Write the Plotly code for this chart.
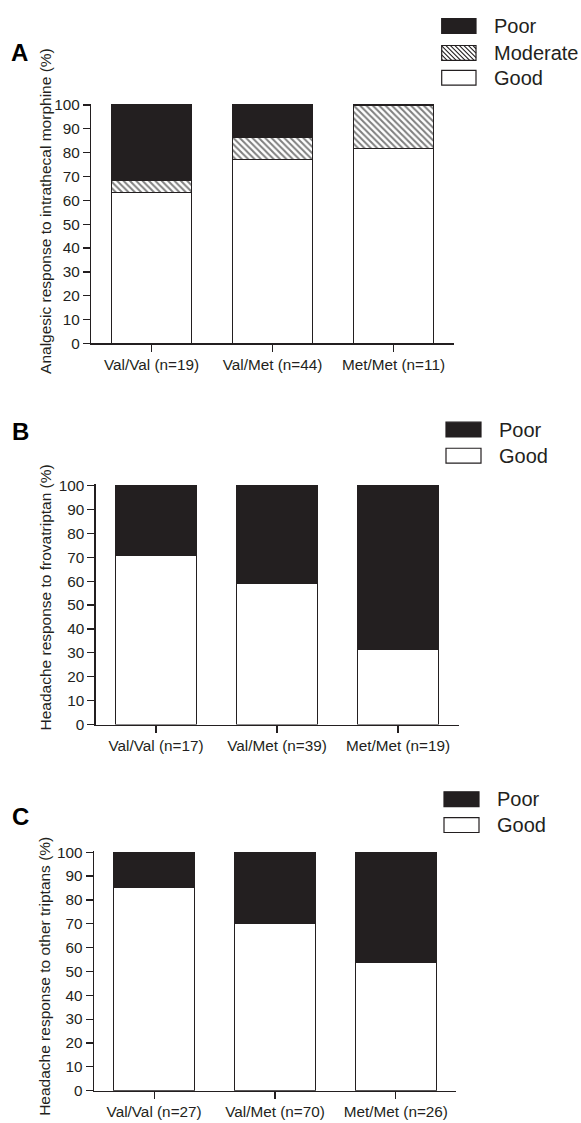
import plotly.graph_objects as go

W, H = 581, 1123

# ---------------- data ----------------
cats_a = ["Val/Val (n=19)", "Val/Met (n=44)", "Met/Met (n=11)"]
good_a = [63.2, 77.3, 81.8]
moderate_a = [5.3, 9.1, 18.2]
poor_a = [31.6, 13.6, 0.0]

cats_b = ["Val/Val (n=17)", "Val/Met (n=39)", "Met/Met (n=19)"]
good_b = [70.6, 59.0, 31.6]
poor_b = [29.4, 41.0, 68.4]

cats_c = ["Val/Val (n=27)", "Val/Met (n=70)", "Met/Met (n=26)"]
good_c = [85.2, 70.0, 53.8]
poor_c = [14.8, 30.0, 46.2]

ytick_vals = list(range(0, 101, 10))
ytitles = [
    "Analgesic response to intrathecal morphine (%)",
    "Headache response to frovatriptan (%)",
    "Headache response to other triptans (%)",
]
panel_letters = ["A", "B", "C"]
series_names = {"poor": "Poor", "moderate": "Moderate", "good": "Good"}

# ---------------- style ----------------
INK = "#231f20"
FONT = "Liberation Sans, Arial, sans-serif"
BAR_W = 0.667


def px_x(x):
    return x / W


def px_y(y):
    return 1 - y / H


fig = go.Figure()

# panel geometry in pixels: (x_left, x_right, y_top(100), y_bottom(0))
panels = [
    (91.0, 454.0, 99.3, 341.0),
    (95.6, 458.5, 485.0, 727.3),
    (93.7, 456.3, 856.7, 1098.3),
]

layout_axes = {}
for i, (xl, xr, yt, yb) in enumerate(panels):
    n = "" if i == 0 else str(i + 1)
    scale = (yb - yt) / 100.0
    ytop = yt - 0.5 * scale  # room for top stroke (range to 100.5)
    layout_axes[f"xaxis{n}"] = dict(
        domain=[px_x(xl), px_x(xr)], anchor=f"y{n}", type="category",
        range=[-0.5, 2.5], showline=True, linecolor=INK, linewidth=1.2,
        ticks="outside", ticklen=7, tickwidth=1.2, tickcolor=INK,
        showgrid=False, zeroline=False, fixedrange=True,
        tickfont=dict(family=FONT, size=15.3, color=INK),
    )
    layout_axes[f"yaxis{n}"] = dict(
        domain=[px_y(yb), px_y(ytop)], anchor=f"x{n}",
        range=[0, 100.5], tickmode="array", tickvals=ytick_vals,
        showline=True, linecolor=INK, linewidth=1.2,
        ticks="outside", ticklen=7, tickwidth=1.2, tickcolor=INK,
        showgrid=False, zeroline=False, fixedrange=True,
        tickfont=dict(family=FONT, size=15.3, color=INK),
    )

line = dict(color=INK, width=1.2)
hatch = dict(shape="\\", size=4.5, solidity=0.45, fgcolor="black", bgcolor="white")

# Panel A
fig.add_trace(go.Bar(x=cats_a, y=good_a, name=series_names["good"], width=BAR_W,
                     marker=dict(color="white", line=line), xaxis="x", yaxis="y"))
fig.add_trace(go.Bar(x=cats_a, y=moderate_a, name=series_names["moderate"], width=BAR_W,
                     marker=dict(color="white", line=line, pattern=hatch),
                     xaxis="x", yaxis="y"))
fig.add_trace(go.Bar(x=cats_a, y=poor_a, name=series_names["poor"], width=BAR_W,
                     marker=dict(color=INK, line=line), xaxis="x", yaxis="y"))
# Panel B
fig.add_trace(go.Bar(x=cats_b, y=good_b, name=series_names["good"], width=BAR_W,
                     marker=dict(color="white", line=line), xaxis="x2", yaxis="y2"))
fig.add_trace(go.Bar(x=cats_b, y=poor_b, name=series_names["poor"], width=BAR_W,
                     marker=dict(color=INK, line=line), xaxis="x2", yaxis="y2"))
# Panel C
fig.add_trace(go.Bar(x=cats_c, y=good_c, name=series_names["good"], width=BAR_W,
                     marker=dict(color="white", line=line), xaxis="x3", yaxis="y3"))
fig.add_trace(go.Bar(x=cats_c, y=poor_c, name=series_names["poor"], width=BAR_W,
                     marker=dict(color=INK, line=line), xaxis="x3", yaxis="y3"))

shapes = []
annotations = []

# ---------------- legends (swatches + labels) ----------------
legend_specs = [
    (441.7, 476.0, 491.7, [("poor", 19.2), ("moderate", 46.5), ("good", 71.7)], 20),
    (446.0, 481.0, 496.7, [("poor", 428.3), ("good", 454.7)], 20),
    (444.0, 479.0, 495.0, [("poor", 803.0), ("good", 829.2)], 20),
]
SW_H = 15.0
for bx0, bx1, tx, rows, fs in legend_specs:
    for key, cy in rows:
        y0, y1 = cy - SW_H / 2, cy + SW_H / 2
        fill = INK if key == "poor" else "white"
        shapes.append(dict(type="rect", xref="paper", yref="paper",
                           x0=px_x(bx0), x1=px_x(bx1), y0=px_y(y1), y1=px_y(y0),
                           fillcolor=fill, line=dict(color=INK, width=1.2), layer="above"))
        if key == "moderate":
            segs = []
            step = 4.5
            c = bx0 - y1 + 1.0  # line: x = y + c (pixel space, top-left -> bottom-right)
            while c < bx1 - y0:
                ys = max(y0, bx0 - c)
                ye = min(y1, bx1 - c)
                if ye > ys:
                    segs.append(f"M{px_x(ys + c):.5f},{px_y(ys):.5f} L{px_x(ye + c):.5f},{px_y(ye):.5f}")
                c += step
            shapes.append(dict(type="path", xref="paper", yref="paper", path=" ".join(segs),
                               line=dict(color=INK, width=1.1), layer="above"))
        annotations.append(dict(text=series_names[key], xref="paper", yref="paper",
                                x=px_x(tx), y=px_y(cy), xanchor="left", yanchor="middle",
                                showarrow=False,
                                font=dict(family=FONT, size=fs, color=INK)))

# ---------------- panel letters ----------------
letter_pos = [(9.0, 46.0), (10.0, 430.0), (10.0, 820.5)]
for letter, (lx, ly) in zip(panel_letters, letter_pos):
    annotations.append(dict(text=f"<b>{letter}</b>", xref="paper", yref="paper",
                            x=px_x(lx), y=px_y(ly), xanchor="left", yanchor="middle",
                            showarrow=False, font=dict(family=FONT, size=24, color="black")))

# ---------------- y-axis titles ----------------
ytitle_pos = [(45.5, 207.2), (45.2, 598.3), (45.0, 983.0)]
for t, (tx, ty) in zip(ytitles, ytitle_pos):
    annotations.append(dict(text=t, xref="paper", yref="paper", x=px_x(tx), y=px_y(ty),
                            xanchor="center", yanchor="middle", textangle=-90,
                            showarrow=False, font=dict(family=FONT, size=15.5, color=INK)))

fig.update_layout(
    width=W, height=H, autosize=False,
    margin=dict(l=0, r=0, t=0, b=0),
    paper_bgcolor="white", plot_bgcolor="white",
    barmode="stack", showlegend=False, hovermode=False,
    shapes=shapes, annotations=annotations,
    font=dict(family=FONT, color=INK),
    **layout_axes,
)

fig.write_html(
    "out.html",
    config={"displayModeBar": False, "staticPlot": True},
    post_script="document.body.style.margin='0';document.body.style.overflow='hidden';",
)
